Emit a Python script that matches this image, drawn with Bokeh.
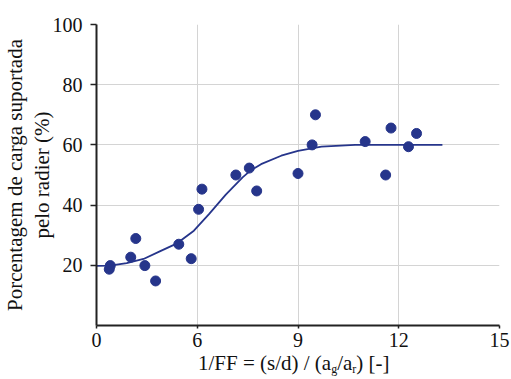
from bokeh.plotting import figure
from bokeh.models import FixedTicker, Range1d, Div
from bokeh.layouts import column
from bokeh.embed import file_html
from bokeh.resources import INLINE

# ---- data ----
x_pts = [3.41, 3.38, 4.02, 4.17, 4.44, 4.76, 5.45, 5.82, 6.04, 6.14, 7.15,
         7.55, 7.77, 9.00, 9.42, 9.52, 11.00, 11.61, 11.77, 12.29, 12.53]
y_pts = [19.9, 18.7, 22.7, 28.9, 19.9, 14.8, 27.0, 22.2, 38.6, 45.3, 50.0,
         52.3, 44.7, 50.5, 60.0, 70.0, 61.1, 50.0, 65.6, 59.4, 63.8]

curve_x = [3.0, 3.4, 3.9, 4.4, 4.9, 5.4, 5.9, 6.35, 6.85, 7.35, 7.6, 7.9,
           8.5, 9.0, 9.7, 10.7, 12.0, 13.3]
curve_y = [19.8, 19.9, 20.7, 22.1, 24.7, 27.3, 31.5, 37.0, 43.5, 49.2, 51.6,
           53.6, 56.4, 58.0, 59.4, 60.0, 60.0, 60.0]

x_ticks = [3, 6, 9, 12, 15]
x_tick_labels = ["0", "6", "9", "12", "15"]
y_ticks = [20, 40, 60, 80, 100]

y_title = "Porcentagem de carga suportada\npelo radier (%)"
x_title_html = ("1/FF = (s/d) / (a<sub style=\"font-size:12px;vertical-align:-3px\">g</sub>"
                "/a<sub style=\"font-size:12px;vertical-align:-3px\">r</sub>) [-]")

BLUE = "#26358B"
TXT = "#111111"
FONT = "Liberation Serif"

p = figure(width=511, height=352, output_backend="svg", toolbar_location=None,
           x_range=Range1d(3, 15), y_range=Range1d(0, 100),
           min_border_left=93, min_border_right=12, min_border_top=24,
           min_border_bottom=27)
p.outline_line_color = None

p.xaxis.ticker = FixedTicker(ticks=x_ticks)
p.xaxis.major_label_overrides = {t: l for t, l in zip(x_ticks, x_tick_labels)}
p.yaxis.ticker = FixedTicker(ticks=y_ticks)

for ax in (p.xaxis, p.yaxis):
    ax.major_label_text_font = FONT
    ax.major_label_text_font_size = "20px"
    ax.major_label_text_font_style = "normal"
    ax.major_label_text_color = TXT
    ax.axis_line_color = "#222222"
    ax.axis_line_width = 2
    ax.major_tick_line_color = "#222222"
    ax.major_tick_line_width = 1.5
    ax.major_tick_in = 0
    ax.minor_tick_line_color = None
p.xaxis.major_tick_out = 3
p.xaxis.major_label_standoff = 4
p.yaxis.major_tick_out = 6
p.yaxis.major_label_standoff = 8

p.yaxis.axis_label = y_title
p.yaxis.axis_label_text_font = FONT
p.yaxis.axis_label_text_font_size = "21px"
p.yaxis.axis_label_text_font_style = "normal"
p.yaxis.axis_label_text_color = TXT
p.yaxis.axis_label_text_line_height = 1.1
p.yaxis.axis_label_standoff = -4

p.xgrid.grid_line_color = "#d4d4d4"
p.ygrid.grid_line_color = "#d4d4d4"

p.line(curve_x, curve_y, line_color=BLUE, line_width=1.8)
p.scatter(x_pts, y_pts, marker="circle", size=10, fill_color=BLUE,
          line_color=BLUE)

xtitle = Div(text=f'<div style="padding-left:198px;padding-top:0px;white-space:nowrap">{x_title_html}</div>',
             width=511, height=27, margin=(0, 0, 0, 0),
             styles={"font-family": "'Liberation Serif', serif",
                     "font-size": "21px", "color": TXT,
                     "line-height": "23px"})

layout = column(p, xtitle, spacing=0)

with open("out.html", "w") as f:
    f.write(file_html(layout, INLINE))
